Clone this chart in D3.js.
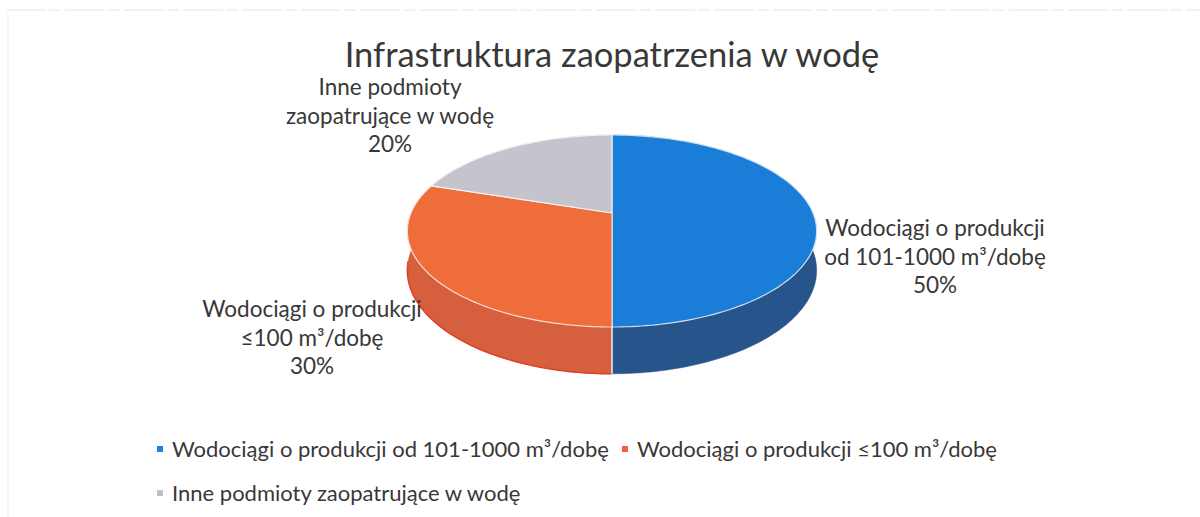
<!DOCTYPE html>
<html><head><meta charset="utf-8">
<script src="https://cdn.jsdelivr.net/npm/d3@7"></script>
<style>html,body{margin:0;padding:0;background:#fff;}svg{display:block;font-family:Lato,"Noto Sans",sans-serif;}</style>
</head><body>
<script>
const title = "Infrastruktura zaopatrzenia w wodę";
const categories = ["Wodociągi o produkcji od 101-1000 m³/dobę", "Wodociągi o produkcji ≤100 m³/dobę", "Inne podmioty zaopatrujące w wodę"];
const values = [50, 30, 20];
const labelLines = [["Wodociągi o produkcji", "od 101-1000 m³/dobę", "50%"], ["Wodociągi o produkcji", "≤100 m³/dobę", "30%"], ["Inne podmioty", "zaopatrujące w wodę", "20%"]];
const topColors = ["#1a7ed9", "#ef6c3b", "#c5c3cc"];
const sideColors = ["#28548c", "#d6603e", "#a9a7b0"];
const legendColors = ["#2180dc", "#f0603f", "#c0bfc4"];

const W = 1200, H = 517;
const svg = d3.select("body").append("svg").attr("width", W).attr("height", H);

// faint scan frame
svg.append("line").attr("x1", 6).attr("x2", 1200).attr("y1", 10).attr("y2", 10).attr("stroke", "#e4e4e4").attr("stroke-width", 1).attr("stroke-dasharray", "40,3,12,4");
svg.append("line").attr("x1", 8).attr("x2", 8).attr("y1", 14).attr("y2", 517).attr("stroke", "#ececec").attr("stroke-width", 1);

// title
svg.append("text").attr("x", 612).attr("y", 67).attr("text-anchor", "middle")
  .attr("font-size", 34.5).attr("fill", "#383838").text(title);

// perspective pie geometry
const cx = 612, Rx = 201, A = 52.7, B = 213, C = -0.1875, depth = 38;
function proj(theta, r, z) {
  const u = Math.sin(theta) * r, v = -Math.cos(theta) * r;
  const w = 1 + C * v;
  return [cx + Rx * u / w, (A * v + B) / w + z * depth / w];
}
const pie = d3.pie().sort(null).value(d => d).startAngle(0).endAngle(2 * Math.PI);
const arcs = pie(values);
const line = d3.line();
function arcPts(a0, a1, z) {
  const n = Math.max(2, Math.ceil((a1 - a0) / 0.02));
  return d3.range(n + 1).map(i => proj(a0 + (a1 - a0) * i / n, 1, z));
}

const gPie = svg.append("g");
// side walls: back first, front last
const order = [2, 1, 0];
order.forEach(i => {
  const a = arcs[i];
  const top = arcPts(a.startAngle, a.endAngle, 0);
  const bot = arcPts(a.startAngle, a.endAngle, 1).reverse();
  gPie.append("path").attr("d", line(top.concat(bot)) + "Z")
    .attr("fill", sideColors[i]).attr("stroke", sideColors[i]).attr("stroke-width", 0.5);
});
// bottom red edge on orange wall
gPie.append("path").attr("d", line(arcPts(Math.PI, 3 * Math.PI / 2 - 0.1, 1)))
  .attr("fill", "none").attr("stroke", "#e0402a").attr("stroke-width", 1.5);
// front seam
const s0 = proj(Math.PI, 1, 0), s1 = proj(Math.PI, 1, 1);
gPie.append("line").attr("x1", s0[0]).attr("y1", s0[1]).attr("x2", s1[0]).attr("y2", s1[1])
  .attr("stroke", "#f2f2f2").attr("stroke-width", 1.5);
// top faces
arcs.forEach((a, i) => {
  const pts = [proj(0, 0, 0)].concat(arcPts(a.startAngle, a.endAngle, 0));
  gPie.append("path").attr("d", line(pts) + "Z")
    .attr("fill", topColors[i]).attr("stroke", "rgba(255,255,255,0.75)").attr("stroke-width", 1.2)
    .attr("stroke-linejoin", "round");
});

// data labels
const labelPos = [[935, 236], [312, 317], [390, 95]];
labelLines.forEach((lines, i) => {
  const t = svg.append("text").attr("text-anchor", "middle").attr("font-size", 22.5).attr("fill", "#383838");
  lines.forEach((l, j) => {
    t.append("tspan").attr("x", labelPos[i][0]).attr("y", labelPos[i][1] + j * 28.5).text(l);
  });
});

// legend
const legPos = [[157, 457], [622, 457], [157, 501]];
categories.forEach((c, i) => {
  const g = svg.append("g");
  g.append("rect").attr("x", legPos[i][0]).attr("y", legPos[i][1] - 11).attr("width", 6).attr("height", 6).attr("fill", legendColors[i]);
  g.append("text").attr("x", legPos[i][0] + 15).attr("y", legPos[i][1]).attr("font-size", 22).attr("fill", "#383838").text(c);
});
</script>
</body></html>
